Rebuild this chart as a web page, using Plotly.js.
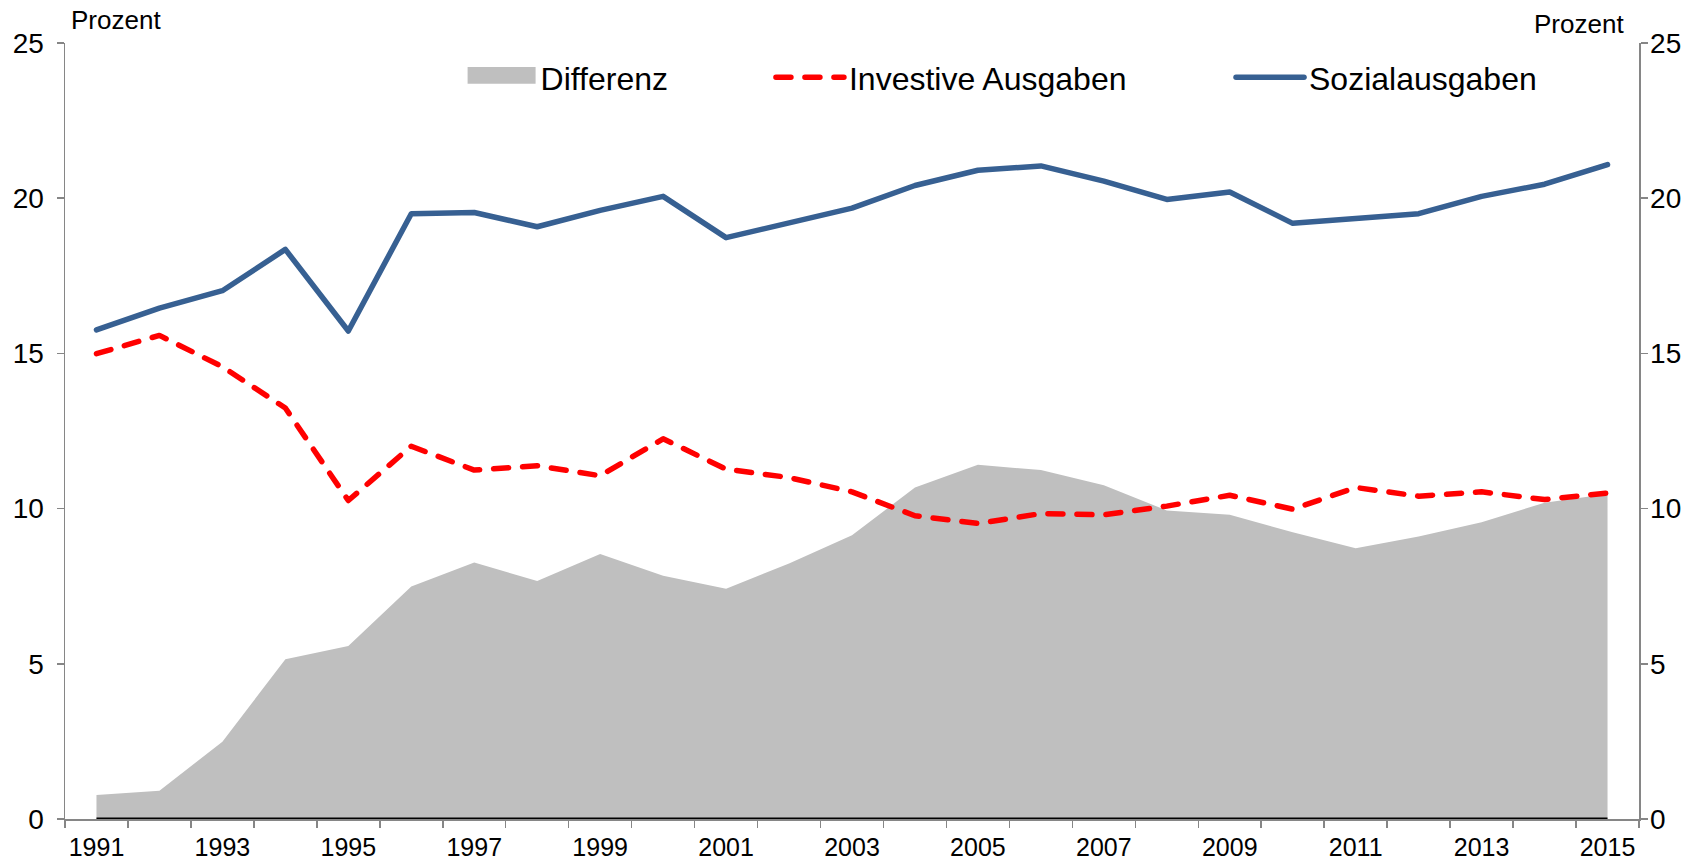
<!DOCTYPE html>
<html>
<head>
<meta charset="utf-8">
<script src="https://cdn.plot.ly/plotly-3.0.1.min.js"></script>
<style>
  html, body { margin: 0; padding: 0; background: #fff; }
  #chart { width: 1704px; height: 865px; }
  .scatterlayer .js-line, .legendlines path { stroke-linecap: round; stroke-linejoin: round; }
  .legendfill path { transform-box: fill-box; transform-origin: center; transform: translateY(-3px) scaleY(2.8); }
</style>
</head>
<body>
<div id="chart"></div>
<script>
const years = [1991, 1992, 1993, 1994, 1995, 1996, 1997, 1998, 1999, 2000, 2001, 2002, 2003,
               2004, 2005, 2006, 2007, 2008, 2009, 2010, 2011, 2012, 2013, 2014, 2015];
const differenz = [0.77, 0.91, 2.49, 5.15, 5.57, 7.49, 8.26, 7.67, 8.54, 7.84, 7.42, 8.23, 9.14,
                   10.68, 11.41, 11.24, 10.75, 9.94, 9.80, 9.24, 8.72, 9.10, 9.56, 10.19, 10.47];
const investiveAusgaben = [14.99, 15.58, 14.57, 13.24, 10.26, 12.01, 11.24, 11.38, 11.06, 12.25, 11.27, 11.00, 10.54,
                           9.77, 9.52, 9.84, 9.80, 10.08, 10.43, 9.98, 10.68, 10.40, 10.54, 10.29, 10.50];
const sozialausgaben = [15.76, 16.46, 17.02, 18.35, 15.72, 19.50, 19.54, 19.08, 19.61, 20.06, 18.73, 19.22, 19.68,
                        20.41, 20.90, 21.04, 20.55, 19.96, 20.20, 19.19, 19.36, 19.50, 20.06, 20.45, 21.08];
const labelYears = years.filter(y => y % 2 === 1);
const yTicks = [0, 5, 10, 15, 20, 25];
const seriesNames = ['Differenz', 'Investive Ausgaben', 'Sozialausgaben'];
const unitLabel = 'Prozent';

const FONT = 'Liberation Sans, Arial, sans-serif';
const AXISGRAY = '#868686';

const traces = [
  {
    x: years, y: differenz, name: seriesNames[0], type: 'scatter', mode: 'lines',
    fill: 'tozeroy', fillcolor: '#BFBFBF', line: { width: 0, color: '#BFBFBF' },
    legend: 'legend'
  },
  {
    x: years, y: investiveAusgaben, name: seriesNames[1], type: 'scatter', mode: 'lines',
    line: { color: '#FF0000', width: 5.5, dash: '15px,14px' },
    legend: 'legend2'
  },
  {
    x: years, y: sozialausgaben, name: seriesNames[2], type: 'scatter', mode: 'lines',
    line: { color: '#376092', width: 5.5 },
    yaxis: 'y2', legend: 'legend3'
  }
];

const yAxisCommon = {
  range: [yTicks[0], yTicks[yTicks.length - 1]],
  tickmode: 'array', tickvals: yTicks,
  ticks: 'outside', ticklen: 7, tickwidth: 1.5, tickcolor: AXISGRAY,
  showline: true, linecolor: AXISGRAY, linewidth: 1.5,
  showgrid: false, zeroline: false,
  tickfont: { family: FONT, size: 28, color: '#000' },
  fixedrange: true
};

const legendCommon = {
  orientation: 'h', yanchor: 'middle', xanchor: 'left', y: 0.9555,
  font: { family: FONT, size: 32, color: '#000' },
  bgcolor: 'rgba(0,0,0,0)', borderwidth: 0, itemwidth: 68,
  tracegroupgap: 0
};

const layout = {
  width: 1704, height: 865,
  margin: { l: 65, r: 65, t: 43, b: 46, pad: 0 },
  paper_bgcolor: '#fff', plot_bgcolor: '#fff',
  font: { family: FONT, color: '#000' },
  showlegend: true,
  xaxis: {
    range: [years[0] - 0.5, years[years.length - 1] + 0.5],
    tickmode: 'array', tickvals: labelYears, ticktext: labelYears.map(String),
    ticks: '', showline: true, linecolor: AXISGRAY, linewidth: 1.5,
    showgrid: false, zeroline: false, ticklabelstandoff: 5,
    tickfont: { family: FONT, size: 25, color: '#000' },
    minor: { tickmode: 'linear', tick0: years[0] - 0.5, dtick: 1, ticks: 'outside', ticklen: 7, tickwidth: 1.5, tickcolor: AXISGRAY, showgrid: false },
    fixedrange: true
  },
  yaxis: Object.assign({}, yAxisCommon, { side: 'left', ticklabelstandoff: 7 }),
  yaxis2: Object.assign({}, yAxisCommon, { side: 'right', overlaying: 'y', anchor: 'x', ticklabelstandoff: -3 }),
  legend: Object.assign({}, legendCommon, { x: 0.2526 }),
  legend2: Object.assign({}, legendCommon, { x: 0.4485 }),
  legend3: Object.assign({}, legendCommon, { x: 0.7408 }),
  shapes: [{
    type: 'line', xref: 'x', yref: 'y',
    x0: years[0], x1: years[years.length - 1], y0: 0, y1: 0,
    line: { color: '#000', width: 3 }, layer: 'above'
  }],
  annotations: [
    { text: unitLabel, xref: 'paper', yref: 'paper', x: 0, y: 1, xanchor: 'left', yanchor: 'middle',
      xshift: 4, yshift: 23, showarrow: false, font: { family: FONT, size: 26, color: '#000' } },
    { text: unitLabel, xref: 'paper', yref: 'paper', x: 1, y: 1, xanchor: 'right', yanchor: 'middle',
      xshift: -13, yshift: 19, showarrow: false, font: { family: FONT, size: 26, color: '#000' } }
  ]
};

Plotly.newPlot('chart', traces, layout, { displayModeBar: false, staticPlot: true });
</script>
</body>
</html>
